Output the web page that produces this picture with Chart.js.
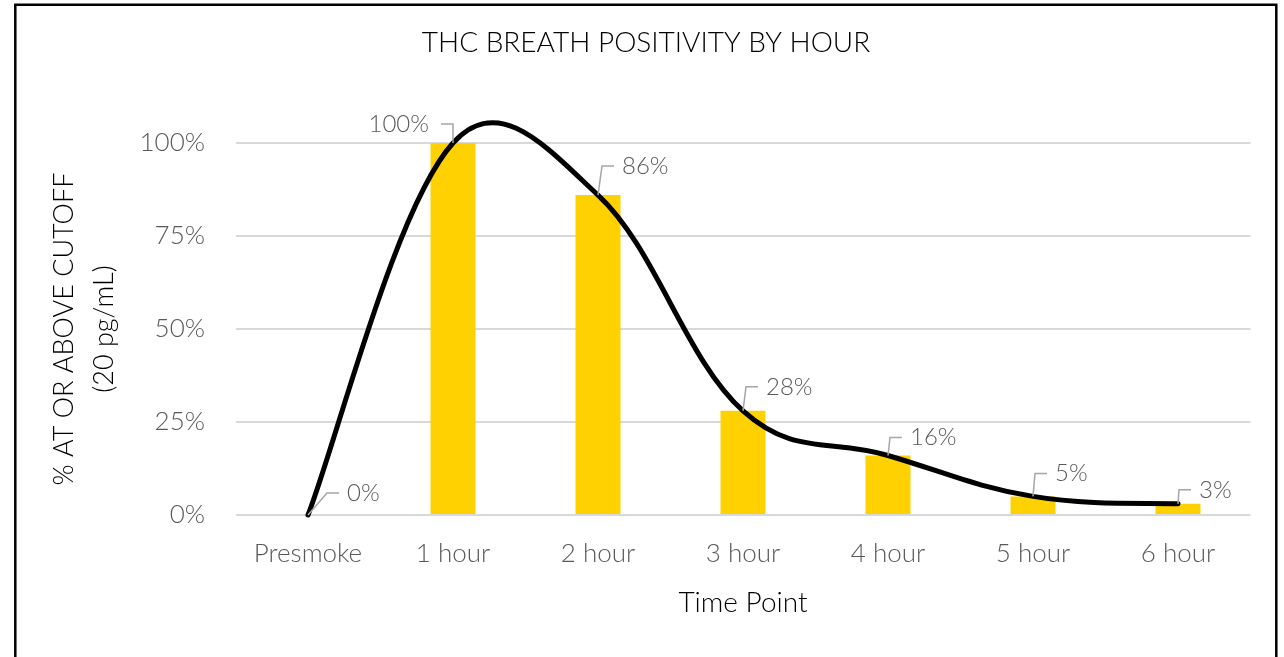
<!DOCTYPE html>
<html>
<head>
<meta charset="utf-8">
<script src="https://cdn.jsdelivr.net/npm/chart.js@4.4.1/dist/chart.umd.min.js"></script>
<style>
  html, body { margin: 0; padding: 0; background: #fff; }
  #wrap { width: 1284px; height: 657px; }
</style>
</head>
<body>
<div id="wrap"><canvas id="c" width="1284" height="657"></canvas></div>
<script>
// ---- data ----
const categories = ['Presmoke', '1 hour', '2 hour', '3 hour', '4 hour', '5 hour', '6 hour'];
const positivity = [0, 100, 86, 28, 16, 5, 3];
const dataLabels = ['0%', '100%', '86%', '28%', '16%', '5%', '3%'];
const yTicks = [0, 25, 50, 75, 100];
const chartTitle = 'THC BREATH POSITIVITY BY HOUR';

// ---- styling ----
const FONT = 'Lato, "Open Sans", sans-serif';
const GREY_TEXT = '#595959';
// label elbow offsets relative to each point (placement only)
const labelPlacement = [
  { dx: 19, dy: -22, side: 'right' },
  { dx: 0, dy: -19, side: 'left' },
  { dx: 4, dy: -29, side: 'right' },
  { dx: 3, dy: -24, side: 'right' },
  { dx: 2, dy: -18, side: 'right' },
  { dx: 2, dy: -23, side: 'right' },
  { dx: 1, dy: -14, side: 'right' }
];
const SMOOTH_K = 0.2;     // spreadsheet-style smoothing strength
const SMOOTH_CLIP = 0.45; // max control arm as fraction of segment length

// spreadsheet-like smoothing of the library's line (control points from scale pixels)
const spreadsheetSmooth = {
  id: 'spreadsheetSmooth',
  beforeDatasetDraw(chart, args) {
    if (args.index !== 1) return;
    const line = args.meta.dataset;
    line.updateControlPoints(chart.chartArea, 'x');
    const pts = args.meta.data;
    const n = pts.length;
    for (let i = 0; i < n; i++) {
      const p = pts[i];
      const prev = pts[Math.max(i - 1, 0)];
      const next = pts[Math.min(i + 1, n - 1)];
      const tx = next.x - prev.x, ty = next.y - prev.y;
      const tl = Math.hypot(tx, ty) || 1;
      const dPrev = Math.hypot(p.x - prev.x, p.y - prev.y);
      const dNext = Math.hypot(next.x - p.x, next.y - p.y);
      const lenIn = Math.min(SMOOTH_K * tl, SMOOTH_CLIP * dPrev);
      const lenOut = Math.min(SMOOTH_K * tl, SMOOTH_CLIP * dNext);
      p.cp1x = p.x - tx / tl * lenIn;
      p.cp1y = p.y - ty / tl * lenIn;
      p.cp2x = p.x + tx / tl * lenOut;
      p.cp2y = p.y + ty / tl * lenOut;
    }
    line._path = undefined;
  }
};

const frameAndLabels = {
  id: 'frameAndLabels',
  afterDatasetsDraw(chart) {
    const ctx = chart.ctx;
    const meta = chart.getDatasetMeta(1);
    ctx.save();
    ctx.font = '300 24px ' + FONT;
    ctx.textBaseline = 'middle';
    meta.data.forEach((pt, i) => {
      const p = labelPlacement[i];
      const ex = pt.x + p.dx, ey = pt.y + p.dy;
      const endX = p.side === 'right' ? ex + 12 : ex - 12;
      ctx.strokeStyle = '#a6a6a6';
      ctx.lineWidth = 1.5;
      ctx.beginPath();
      ctx.moveTo(pt.x, pt.y);
      ctx.lineTo(ex, ey);
      ctx.lineTo(endX, ey);
      ctx.stroke();
      ctx.fillStyle = GREY_TEXT;
      if (p.side === 'right') {
        ctx.textAlign = 'left';
        ctx.fillText(dataLabels[i], endX + 8, ey);
      } else {
        ctx.textAlign = 'right';
        ctx.fillText(dataLabels[i], endX - 12, ey);
      }
    });
    ctx.restore();
  },
  afterDraw(chart) {
    const ctx = chart.ctx;
    ctx.save();
    // title
    ctx.fillStyle = '#000';
    ctx.font = '300 28px ' + FONT;
    ctx.textAlign = 'center';
    ctx.textBaseline = 'middle';
    ctx.fillText(chartTitle, 646, 43);
    // frame
    ctx.strokeStyle = '#000';
    ctx.lineWidth = 2.5;
    ctx.beginPath();
    ctx.moveTo(15.3, 660);
    ctx.lineTo(15.3, 4.8);
    ctx.lineTo(1276.3, 4.8);
    ctx.lineTo(1276.3, 660);
    ctx.stroke();
    ctx.restore();
  }
};

new Chart(document.getElementById('c'), {
  data: {
    labels: categories,
    datasets: [
      {
        type: 'bar',
        data: positivity,
        backgroundColor: '#FFD100',
        barPercentage: 0.31,
        categoryPercentage: 1.0,
        order: 2
      },
      {
        type: 'line',
        data: positivity,
        borderColor: '#000',
        borderWidth: 5,
        tension: 0.4,
        pointRadius: 0,
        borderCapStyle: 'round',
        borderJoinStyle: 'round',
        capBezierPoints: false,
        clip: false,
        fill: false,
        order: 1
      }
    ]
  },
  options: {
    responsive: false,
    animation: false,
    devicePixelRatio: 1,
    layout: { padding: { left: 0, right: 33.5, top: 143, bottom: 0 } },
    elements: { line: { capBezierPoints: false } },
    plugins: {
      legend: { display: false },
      tooltip: { enabled: false },
      title: { display: false }
    },
    scales: {
      x: {
        grid: { display: false, drawTicks: false },
        border: { display: false },
        ticks: { color: GREY_TEXT, font: { family: FONT, size: 26, weight: '300', lineHeight: 1.2 }, padding: 23.4, maxRotation: 0 },
        title: {
          display: true,
          text: 'Time Point',
          color: '#000',
          font: { family: FONT, size: 28, weight: '300', lineHeight: 1.2 },
          padding: { top: 0, bottom: 37.2 }
        },
        afterFit(s) { s.height = 142; }
      },
      y: {
        min: 0,
        max: 100,
        afterBuildTicks(s) { s.ticks = yTicks.map(v => ({ value: v })); },
        grid: { color: '#d9d9d9', lineWidth: 2, drawTicks: false },
        border: { display: false },
        ticks: {
          color: GREY_TEXT,
          font: { family: FONT, size: 26, weight: '300', lineHeight: 1.2 },
          padding: 30.5,
          callback: v => v + '%'
        },
        title: {
          display: true,
          text: ['% AT OR ABOVE CUTOFF', '(20 pg/mL)'],
          color: '#000',
          font: { family: FONT, size: 27, weight: '300', lineHeight: 1.48 },
          padding: { top: 44, bottom: 0 }
        },
        afterFit(s) { s.width = 235.5; }
      }
    }
  },
  plugins: [spreadsheetSmooth, frameAndLabels]
});
</script>
</body>
</html>
